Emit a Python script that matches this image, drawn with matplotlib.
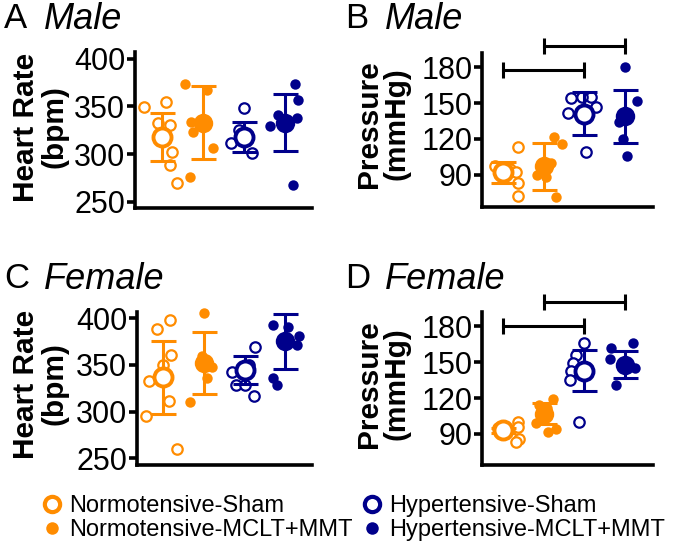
import matplotlib
matplotlib.use('Agg')
import matplotlib.pyplot as plt
from matplotlib.lines import Line2D

plt.rcParams['font.family'] = ['Liberation Sans', 'DejaVu Sans']

orange = '#FF8C00'
navy = '#00008B'

groups = ['Normotensive-Sham', 'Normotensive-MCLT+MMT', 'Hypertensive-Sham', 'Hypertensive-MCLT+MMT']

# ---- A: male heart rate
a_ns = [349, 355, 331, 302, 289, 270, 333]
a_nm = [373, 367, 334, 323, 306, 276, 337]
a_hs = [348, 312, 301, 320, 325]
a_hm = [373, 357, 341, 338, 329, 268]
a_mean = [318, 333, 318, 333]
a_sd = [25, 38, 16, 30]

# ---- B: male pressure
b_ns = [113, 97, 95, 92, 83, 72]
b_nm = [122, 116, 100, 90, 88, 71]
b_hs = [154, 155, 155, 147, 142, 109]
b_hm = [180, 152, 134, 120, 106]
b_mean = [92, 97, 141, 139]
b_sd = [9, 20, 18, 22]

# ---- C: female heart rate
c_ns = [398, 388, 361, 350, 333, 311, 295, 260]
c_nm = [405, 359, 348, 336, 310]
c_hs = [369, 342, 328, 328, 317, 350]
c_hm = [393, 391, 381, 371, 336, 329]
c_mean = [337, 352, 345, 375]
c_sd = [39, 33, 15, 29]

# ---- D: female pressure
d_ns = [100, 96, 86, 83, 94, 95]
d_nm = [119, 114, 112, 107, 99, 92, 94]
d_hs = [166, 156, 149, 143, 135, 100]
d_hm = [166, 162, 153, 145, 131, 150]
d_mean = [93, 107, 143, 148]
d_sd = [2, 9, 17, 11]

# horizontal scatter of the points (in pixels)
a_off = [[-18, 4, 8, 10, 8, 15, -4], [-18, 4, -12, -10, 10, -13, 0],
         [0, -13, 8, 3, -5], [10, 13, -7, 12, -15, 8]]
b_off = [[15, -8, 7, 13, 15, 15], [10, 18, 7, -7, 2, 12],
         [-13, 7, -2, 12, -17, 2], [0, 12, -6, -2, 2]]
c_off = [[7, -6, 8, 0, -14, 6, -17, 14], [0, -2, 8, 3, -14],
         [10, -13, -9, 0, 9, 4], [-12, 3, 14, 12, -12, -8]]
d_off = [[15, 15, 16, 13, 3, -5], [9, -5, 3, 0, -8, 4, 12],
         [0, -8, -11, -13, -15, -5], [8, -14, -15, 10, -9, 2]]

panels = [
    ('A', 'Male', 'Heart Rate\n(bpm)', [a_ns, a_nm, a_hs, a_hm], a_mean, a_sd, a_off,
     (243.5, 407), [250, 300, 350, 400], []),
    ('B', 'Male', 'Pressure\n(mmHg)', [b_ns, b_nm, b_hs, b_hm], b_mean, b_sd, b_off,
     (63, 192), [90, 120, 150, 180], [(1, 3, 177.5), (2, 4, 198)]),
    ('C', 'Female', 'Heart Rate\n(bpm)', [c_ns, c_nm, c_hs, c_hm], c_mean, c_sd, c_off,
     (243, 406.5), [250, 300, 350, 400], []),
    ('D', 'Female', 'Pressure\n(mmHg)', [d_ns, d_nm, d_hs, d_hm], d_mean, d_sd, d_off,
     (64, 192), [90, 120, 150, 180], [(1, 3, 180), (2, 4, 200)]),
]

W, H = 685, 548
# axes boxes in pixels: left, top, right, bottom
boxes = [(135, 52, 312, 208), (482, 53, 653, 207), (137, 312, 312, 465), (482, 312, 653, 465)]
xlims = [(0.35, 4.65), (0.49, 4.68), (0.37, 4.65), (0.49, 4.68)]
titles_xy = [(4, 2), (345, 2), (4, 262), (345, 262)]
ylab_xy = [(40, 127), (383, 124), (40, 384), (383, 384)]

colors = [orange, orange, navy, navy]
hollow = [True, False, True, False]

fig = plt.figure(figsize=(W / 100, H / 100), dpi=100)

for i, (letter, sex, ylab, vals, means, sds, offs, ylim, yt, sig) in enumerate(panels):
    l, t, r, b = boxes[i]
    ax = fig.add_axes([l / W, 1 - b / H, (r - l) / W, (b - t) / H])
    for g in range(4):
        x0 = g + 1
        xs = [x0 + o / 41.0 for o in offs[g]]
        c = colors[g]
        if hollow[g]:
            ax.plot(xs, vals[g], 'o', ms=7.5, mfc='white', mec=c, mew=1.6, zorder=2, clip_on=False)
        else:
            ax.plot(xs, vals[g], 'o', ms=7.5, mfc=c, mec=c, mew=0, zorder=2, clip_on=False)
        ax.errorbar([x0], [means[g]], yerr=[sds[g]], fmt='none', ecolor=c, elinewidth=2.2,
                    capsize=9, capthick=2.2, zorder=3)
        if hollow[g]:
            ax.plot([x0], [means[g]], 'o', ms=13, mfc='white', mec=c, mew=2.8, zorder=4)
        else:
            ax.plot([x0], [means[g]], 'o', ms=14, mfc=c, mec=c, mew=0, zorder=4)
    for (g1, g2, yv) in sig:
        ax.plot([g1, g2], [yv, yv], '-', color='black', lw=2.2, clip_on=False)
        ax.plot([g1, g2], [yv, yv], '|', color='black', ms=11, mew=2.2, clip_on=False)
    ax.set_xlim(xlims[i])
    ax.set_ylim(ylim)
    ax.set_yticks(yt)
    ax.set_xticks([])
    for s in ['top', 'right']:
        ax.spines[s].set_visible(False)
    for s in ['left', 'bottom']:
        ax.spines[s].set_linewidth(2.6)
    ax.tick_params(axis='y', length=6, width=2.6, labelsize=22, pad=1)
    tx, ty = titles_xy[i]
    fig.text(tx / W, 1 - ty / H, letter, fontsize=25, va='top', ha='left')
    fig.text((tx + 40) / W, 1 - ty / H, sex, fontsize=26, style='italic', va='top', ha='left')
    lx, ly = ylab_xy[i]
    fig.text(lx / W, 1 - ly / H, ylab, fontsize=21.5, fontweight='bold', rotation=90,
             ha='center', va='center', linespacing=1.0, multialignment='center')

handles = []
for g in range(4):
    if hollow[g]:
        h = Line2D([], [], ls='none', marker='o', ms=11, mfc='white', mec=colors[g], mew=3)
    else:
        h = Line2D([], [], ls='none', marker='o', ms=9, mfc=colors[g], mec=colors[g], mew=0)
    handles.append(h)
fig.legend(handles, groups, ncol=2, loc='upper left', bbox_to_anchor=(38 / W, 1 - 495 / H),
           frameon=False, fontsize=17, handletextpad=0.1, columnspacing=0.25,
           labelspacing=0.1, handlelength=1.2, borderpad=0, borderaxespad=0)

fig.savefig('out.png', dpi=100)
